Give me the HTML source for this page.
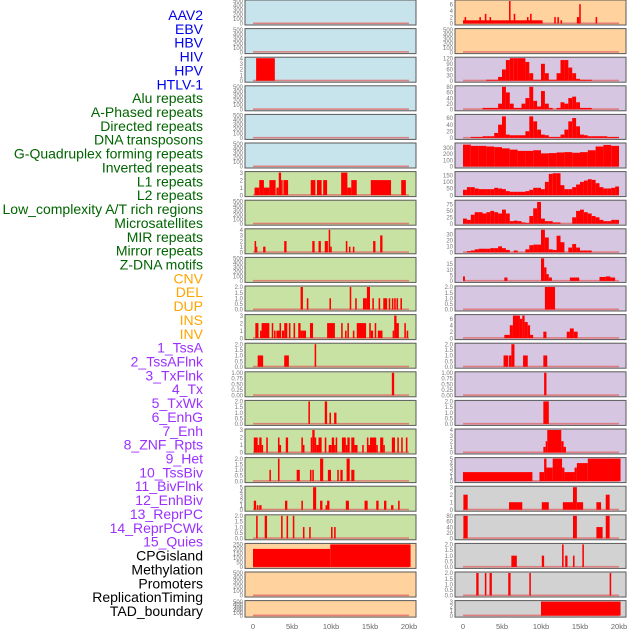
<!DOCTYPE html>
<html><head><meta charset="utf-8">
<style>
body{margin:0;background:#fff;}
svg{display:block;font-family:"Liberation Sans",sans-serif;}
</style></head>
<body>
<svg id="chart" width="630" height="630" viewBox="0 0 630 630" xmlns="http://www.w3.org/2000/svg"></svg>
<script>
const labels=["AAV2","EBV","HBV","HIV","HPV","HTLV-1","Alu repeats","A-Phased repeats","Directed repeats","DNA transposons","G-Quadruplex forming repeats","Inverted repeats","L1 repeats","L2 repeats","Low_complexity A/T rich regions","Microsatellites","MIR repeats","Mirror repeats","Z-DNA motifs","CNV","DEL","DUP","INS","INV","1_TssA","2_TssAFlnk","3_TxFlnk","4_Tx","5_TxWk","6_EnhG","7_Enh","8_ZNF_Rpts","9_Het","10_TssBiv","11_BivFlnk","12_EnhBiv","13_ReprPC","14_ReprPCWk","15_Quies","CPGisland","Methylation","Promoters","ReplicationTiming","TAD_boundary"];
const labelColors=["#0000ee","#006400","#ffa500","#9b30ff","#000000"];
const labelGroups=[6,13,5,15,5];
const xTicks=[0,5,10,15,20];
const xTickLabels=["0","5kb","10kb","15kb","20kb"];
const T500=[0,100,200,300,400,500];
const T2=[0,0.5,1,1.5,2];
// left column segments [startKb,endKb,value]
const L1=[],L2=[],L4=[],L5=[],L6=[],L8=[],L10=[],L21=[],L22=[];
const L3=[[0.4,2.8,4]];
const L7=[[0.2,0.8,1],[0.8,1.4,2],[1.4,2.1,1],[2.1,2.9,2],[3.0,3.3,1],[3.3,3.6,3],[3.6,3.8,2],[3.9,4.5,2],[7.4,8.0,2],[8.2,8.8,2],[9.0,9.5,2],[11.3,12.1,3],[12.1,12.6,1],[12.6,13.3,2],[15.1,17.7,2],[19.0,19.6,2]];
const L9=[[0.2,0.4,2],[0.4,0.5,1],[1.3,1.6,1],[4.0,4.3,2],[7.6,7.9,2],[8.4,8.7,2],[9.2,9.6,2],[9.7,9.9,4],[9.9,10.1,1],[11.9,12.1,2],[12.3,12.5,1],[12.8,13.0,1],[15.4,15.7,2],[16.3,16.6,3]];
const L11=[[6.1,6.4,2],[6.9,7.1,1],[9.8,10.0,1],[12.4,12.6,2],[13.1,13.3,1],[14.1,14.6,1],[14.6,15.0,2],[15.3,15.5,1],[16.1,16.3,1],[16.7,17.2,1],[17.4,17.6,1],[17.8,18.0,1],[18.1,18.3,1],[18.4,18.6,1],[18.9,19.1,1]];
const L12=[[0.3,0.7,2],[0.9,1.1,1],[1.1,2.1,2],[2.4,2.6,2],[2.7,2.9,1],[3.0,3.4,1],[3.4,3.6,2],[3.7,4.0,1],[4.0,4.4,2],[4.6,4.8,2],[5.2,5.4,2],[5.8,6.1,2],[6.1,6.3,1],[6.3,6.8,1],[7.3,7.7,2],[9.5,10.0,2],[10.0,10.5,2],[11.3,11.5,2],[11.8,12.0,1],[12.1,12.3,2],[12.8,13.0,1],[13.3,14.5,2],[14.9,15.1,2],[15.1,15.4,1],[15.6,15.8,2],[16.0,16.6,1],[17.9,18.1,1],[18.1,18.4,3],[18.4,18.7,2],[19.4,19.6,2],[19.7,19.9,1]];
const L13=[[0.6,1.3,1],[4.0,4.6,1],[7.9,8.1,2]];
const L14=[[17.8,18.1,1]];
const L15=[[7.1,7.3,2],[9.2,9.5,2],[9.8,10.0,1],[10.4,10.7,1]];
const L16=[[0.1,0.6,2],[0.6,0.8,1],[0.8,1.1,2],[1.1,1.3,1],[1.7,1.9,2],[3.2,3.4,2],[3.4,3.6,1],[4.2,4.5,2],[6.2,6.4,2],[6.4,6.6,1],[7.4,7.6,2],[7.6,7.9,3],[7.9,8.1,2],[8.1,8.4,1],[8.4,8.8,2],[9.2,9.4,2],[9.7,10.1,1],[10.1,10.4,2],[10.4,10.6,1],[10.6,10.8,2],[11.4,11.9,2],[11.9,12.1,1],[12.1,12.4,2],[12.6,13.0,2],[13.0,13.4,1],[14.0,14.2,1],[14.6,14.8,2],[14.8,15.0,1],[15.0,15.8,2],[15.8,16.0,1],[16.3,16.7,2],[16.7,16.9,1],[17.8,18.2,2],[18.5,18.7,2],[19.0,19.2,2],[19.6,19.8,2]];
const L17=[[2.1,2.3,1],[3.2,3.4,2],[5.6,6.0,1],[7.3,7.5,1],[7.6,7.8,1],[8.6,9.0,2],[9.6,10.0,1],[10.8,11.0,1],[11.2,11.5,1],[12.0,12.4,2],[12.6,13.0,1]];
const L18=[[0.1,0.4,2],[0.5,0.7,1],[0.8,1.1,1],[4.1,4.4,2],[6.2,6.4,2],[7.7,8.1,5],[8.6,8.9,2],[9.3,9.5,1],[9.5,9.8,2],[11.9,12.3,2],[14.3,14.7,2],[15.8,16.1,2],[16.8,17.1,2],[17.7,18.0,1],[18.6,18.8,2]];
const L19=[[0.4,0.6,2],[1.5,1.8,2],[3.6,3.8,2],[4.3,4.5,2],[5.1,5.3,2],[6.4,6.6,1],[7.2,7.4,1],[10.0,10.2,1],[10.4,10.6,1]];
const L20=[[0,9.9,200],[9.9,20.2,250]];
// right column
const R1=[[0,10.2,1],[0.2,0.4,2],[2.1,2.3,2],[2.8,3.0,3],[3.4,3.6,2],[5.9,6.1,7],[6.5,6.7,3],[8.2,8.4,2],[8.6,8.8,3],[11.7,11.9,2],[12.1,12.3,2],[12.5,12.7,1],[14.6,14.9,2],[14.9,15.1,6],[17.0,17.2,2]];
const R2=[];
const R3v=[0,0,0,0,0,0,5,5,5,20,60,110,120,120,120,120,100,40,5,5,90,40,5,5,40,110,110,70,40,10,5,5,5,0,0,0,0,0,0,0];
const R4v=[0,0,0,0,0,5,5,5,5,20,80,60,20,5,5,20,40,80,30,10,65,20,5,0,5,25,20,40,45,25,5,5,5,0,0,0,0,0,0,0];
const R5v=[0,0,3,3,3,5,5,5,15,40,65,10,8,8,8,8,20,65,50,25,10,8,3,3,3,10,25,50,60,35,10,8,5,5,5,5,5,3,3,3];
const R6v=[350,330,330,320,310,290,270,250,250,260,210,215,225,230,220,230,260,320,345,330];
const R7v=[40,60,60,50,45,45,45,45,55,50,45,30,25,25,25,25,30,40,55,55,45,100,160,165,165,75,45,45,60,80,100,110,120,115,90,60,50,50,55,65];
const R8v=[20,15,35,45,45,40,45,50,45,40,55,40,10,12,10,5,3,30,60,85,20,10,10,5,5,0,0,0,25,50,55,45,40,30,25,15,10,10,15,15];
const R9v=[0,2,3,5,6,6,6,7,7,10,7,4,0,3,0,0,5,12,13,13,38,25,5,4,28,17,0,8,14,8,3,3,3,0,0,0,0,0,0,0];
const R10=[[0,0.25,4],[5.3,5.7,3],[10.0,10.4,20],[10.4,10.7,12],[10.7,11.0,6],[11.0,11.4,3],[13.7,14.9,3],[17.5,18.3,3.5],[18.3,18.9,4],[18.9,19.5,3]];
const R11=[[10.5,11.8,2]];
const R12=[[5.3,6.0,1],[6.0,6.4,4],[6.4,7.3,7],[7.3,7.6,6],[7.6,7.9,7],[7.9,8.3,5],[8.3,8.6,4],[8.6,9.0,1],[10.3,10.7,2],[13.3,13.7,2],[13.7,14.2,3],[14.2,14.7,2]];
const R13=[[5.2,5.8,1],[5.9,6.2,1],[6.2,6.6,2],[7.7,8.3,1],[10.3,10.8,1]];
const R14=[[10.4,10.7,1]];
const R15=[[10.3,11.0,2]];
const R16=[[10.3,10.6,1],[10.6,10.8,2],[10.8,12.6,4],[12.6,12.9,2],[12.9,13.2,1]];
const R17=[[0,8.9,2],[9.8,10.4,2],[10.4,10.7,5],[10.7,11.5,3],[11.5,12.7,5],[12.7,13.0,3],[13.0,14.3,2],[14.3,14.6,3],[14.6,16.0,4],[16.0,20.2,5]];
const R18=[[0.05,0.6,2],[5.9,7.6,1],[10.1,11.0,1],[12.8,14.1,1],[14.1,14.6,3],[14.6,15.4,1],[17.1,17.7,1],[18.3,18.8,2]];
const R19=[[0.05,0.6,80],[14.1,14.6,80],[17.1,17.9,40],[18.3,18.8,80]];
const R20=[[6.2,6.9,1],[10.1,10.4,1],[12.7,12.9,2],[13.1,13.4,1],[14.1,14.3,1],[15.3,15.5,2]];
const R21=[[1.7,2.0,2],[2.8,3.0,2],[3.4,3.7,2],[5.8,6.1,2],[8.5,8.7,2],[18.8,19.0,2]];
const R22=[[10.0,20.2,3]];

function bins(vals,step){const out=[];vals.forEach((v,i)=>{if(v>0)out.push([i*step,(i+1)*step,v]);});return out;}
const BLUE="#c7e3ec",GREEN="#c8e2a3",ORANGE="#ffd29e",PURPLE="#d6c6e1",GRAY="#d2d2d2";
const left=[[L1,T500,BLUE],[L2,T500,BLUE],[L3,[0,1,2,3,4],BLUE],[L4,T500,BLUE],[L5,T500,BLUE],[L6,T500,BLUE],
[L7,[0,1,2,3],GREEN],[L8,T500,GREEN],[L9,[0,1,2,3,4],GREEN],[L10,T500,GREEN],[L11,T2,GREEN],[L12,[0,1,2,3],GREEN],[L13,T2,GREEN],[L14,[0,0.25,0.5,0.75,1],GREEN],[L15,T2,GREEN],[L16,[0,1,2,3],GREEN],[L17,T2,GREEN],[L18,[0,1,2,3,4,5],GREEN],[L19,T2,GREEN],
[L20,[0,50,100,150,200,250],ORANGE],[L21,T500,ORANGE],[L22,T500,ORANGE]];
const right=[[R1,[0,2,4,6],ORANGE,7],[R2,T500,ORANGE],[bins(R3v,0.5),[0,30,60,90,120],PURPLE],[bins(R4v,0.5),[0,20,40,60,80],PURPLE],[bins(R5v,0.5),[0,20,40,60],PURPLE,68],[bins(R6v,1),[0,100,200,300],PURPLE,360],[bins(R7v,0.5),[0,50,100,150],PURPLE,170],[bins(R8v,0.5),[0,25,50,75],PURPLE,88],[bins(R9v,0.5),[0,10,20,30],PURPLE,38],[R10,[0,5,10,15],PURPLE,20],[R11,T2,PURPLE],[R12,[0,2,4,6],PURPLE,7],[R13,T2,PURPLE],[R14,[0,0.25,0.5,0.75,1],PURPLE],[R15,T2,PURPLE],[R16,[0,1,2,3,4],PURPLE],[R17,[0,1,2,3,4,5],PURPLE],[R18,[0,1,2,3],GRAY],[R19,[0,20,40,60,80],GRAY],[R20,T2,GRAY],[R21,T2,GRAY],[R22,[0,1,2,3],GRAY]];

const svg=document.getElementById('chart');
const NS="http://www.w3.org/2000/svg";
function mk(tag,attrs,parent){const e=document.createElementNS(NS,tag);for(const k in attrs)e.setAttribute(k,attrs[k]);(parent||svg).appendChild(e);return e;}
// labels
let gi=0,cnt=0;
labels.forEach((t,i)=>{
  if(cnt>=labelGroups[gi]){gi++;cnt=0;}cnt++;
  const e=mk('text',{x:203,y:15+13.86*i+5,'text-anchor':'end','font-size':14,fill:labelColors[gi]});
  e.textContent=t;
  
  
});
function panel(col,i,cfg){
  const [segs,ticks,bg,ymaxIn]=cfg;
  const px=col===0?245:455, pw=171;
  const top=i*28.6, h=(i===21)?16.5:25;
  const kbX=kb=>px+8+kb*7.8;
  const ymax=ymaxIn||ticks[ticks.length-1];
  const y0=top+h-1.5, yt=top+1;
  const yS=v=>y0-v/ymax*(y0-yt);
  const g=mk('g',{});
  
  
  const bgr=mk('rect',{x:px,y:top,width:pw,height:h,fill:bg,stroke:'#5a5a5a','stroke-width':1},g);
  
  
  ticks.forEach(v=>{
    const t=mk('text',{x:px-2,y:yS(v)+2.2,'text-anchor':'end','font-size':6,fill:'#777'},g);
    t.textContent=String(v%1===0?v:v.toFixed(v*4%1===0&&ticks[1]===0.25?2:1));
    if(ticks[1]===0.5||ticks[1]===0.25) t.textContent=ticks[1]===0.25?v.toFixed(2):v.toFixed(1);
    
    
  });
  const bl=mk('rect',{x:kbX(0),y:y0-1,width:kbX(20)-kbX(0),height:1.6,fill:'#e06a6a',opacity:0.8},g);
  
  
  segs.forEach(s=>{
    const x1=kbX(s[0]),x2=kbX(s[1]),y=yS(Math.min(s[2],ymax));
    const r=mk('rect',{x:x1,y:y,width:Math.max(1.2,x2-x1),height:y0-y,fill:'#ff0000'},g);
    
    
  });
}
left.forEach((c,i)=>panel(0,i,c));
right.forEach((c,i)=>panel(1,i,c));
[253,463].forEach(base=>{
  xTicks.forEach((k,j)=>{
    const t=mk('text',{x:base+k*7.8,y:629,'text-anchor':'middle','font-size':7.5,fill:'#666'});
    t.textContent=xTickLabels[j];
    
    
  });
});
</script>
</body></html>
